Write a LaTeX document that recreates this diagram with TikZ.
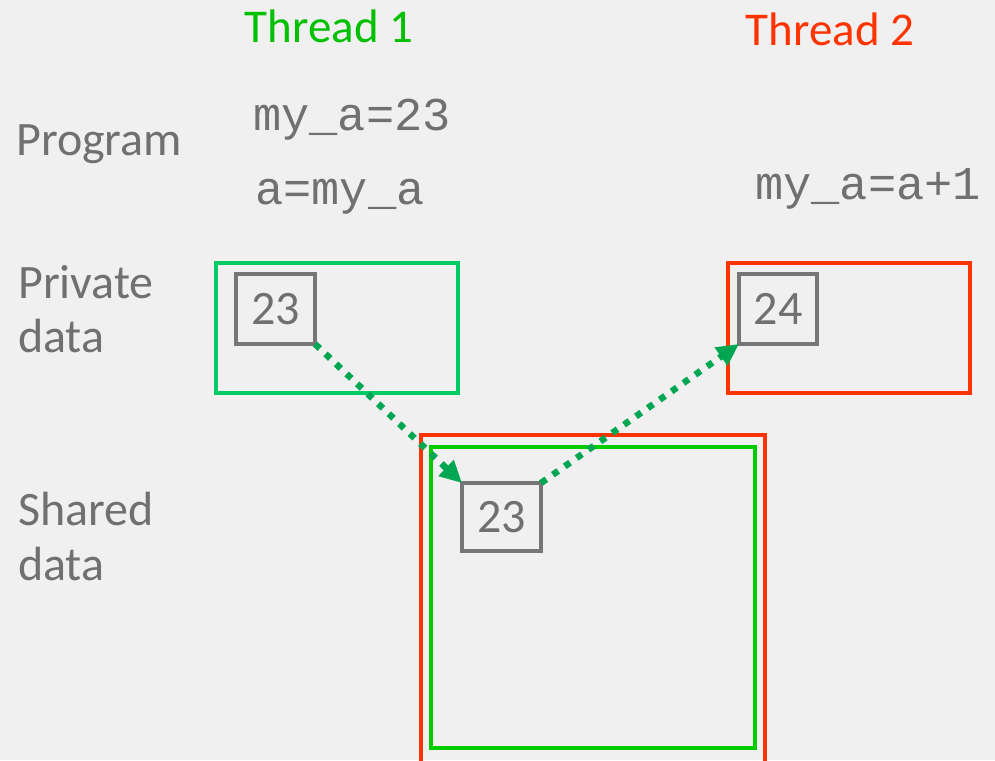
\documentclass[tikz,border=0pt]{standalone}
\usepackage{fontspec}
\setmainfont{Carlito}
\newfontfamily\codefont{Liberation Mono}
\usetikzlibrary{arrows.meta}
\definecolor{bgcol}{HTML}{F0F0F0}
\definecolor{txtgray}{HTML}{707070}
\definecolor{boxgray}{HTML}{767676}
\definecolor{tonegreen}{HTML}{00C000}
\definecolor{privgreen}{HTML}{00CC66}
\definecolor{sharegreen}{HTML}{00CC00}
\definecolor{tonered}{HTML}{FF3300}
\definecolor{arrowgreen}{HTML}{00A651}
\tikzset{
  label/.style={inner sep=0pt, anchor=base west, text=txtgray, font=\fontsize{48}{52}\selectfont},
  code/.style={inner sep=0pt, anchor=base west, text=txtgray, font=\codefont\fontsize{47}{50}\selectfont},
  title/.style={inner sep=0pt, anchor=base, font=\fontsize{47}{50}\selectfont},
  area/.style={draw, line width=4pt, inner sep=0pt, outer sep=0pt},
  valbox/.style={draw=boxgray, line width=4pt, inner sep=0pt, outer sep=0pt,
    text=txtgray, font=\fontsize{48}{50}\selectfont},
  flow/.style={draw=arrowgreen, line width=6.5pt, dash pattern=on 6.5pt off 8pt,
    -{Triangle[length=22pt,width=21pt,fill=arrowgreen]}},
}
\begin{document}
\begin{tikzpicture}[x=1pt,y=-1pt]
\fill[bgcol] (0,0) rectangle (995,760);
\useasboundingbox (0,0) rectangle (995,760);

% thread headings
\node[title, text=tonegreen] (t1) at (329,43) {Thread 1};
\node[title, text=tonered] (t2) at (830,46) {Thread 2};

% row labels
\node[label] (prog) at (16,155) {Program};
\node[label] (priv1) at (18,298) {Private};
\node[label] (priv2) at (18,352) {data};
\node[label] (sh1) at (18,525) {Shared};
\node[label] (sh2) at (18,580) {data};

% program lines
\node[code] (c1) at (253,130) {my\_a=23};
\node[code] (c2) at (255,204) {a=my\_a};
\node[code] (c3) at (755,199) {my\_a=a+1};

% private areas
\node[area, draw=privgreen, minimum width=242pt, minimum height=130pt] (p1) at (337,328) {};
\node[area, draw=tonered, minimum width=242pt, minimum height=130pt] (p2) at (849,328) {};

% shared area (red one runs off the bottom edge)
\node[area, draw=tonered, minimum width=344pt, minimum height=340pt] (sr) at (593,605) {};
\node[area, draw=sharegreen, minimum width=324pt, minimum height=301pt] (sg) at (593,597.5) {};

% values
\node[valbox, minimum width=79pt, minimum height=70pt] (v1) at (275.5,309) {23};
\node[valbox, minimum width=78pt, minimum height=70pt] (v2) at (778,309) {24};
\node[valbox, minimum width=79pt, minimum height=68pt] (v3) at (501.5,517) {23};

% data movement
\draw[flow] (v1.south east) -- (v3.north west);
\draw[flow] (v3.north east) -- (v2.south west);
\end{tikzpicture}
\end{document}
